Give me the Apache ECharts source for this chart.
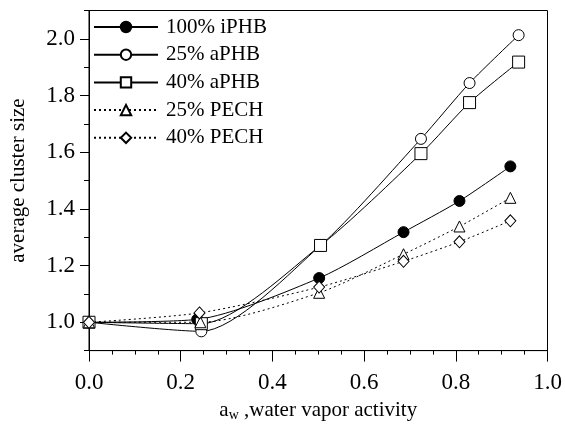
<!DOCTYPE html>
<html>
<head>
<meta charset="utf-8">
<script src="https://cdn.jsdelivr.net/npm/echarts@6/dist/echarts.min.js"></script>
<style>
html,body{margin:0;padding:0;background:#fff;}
#c{width:565px;height:427px;}
</style>
</head>
<body>
<div id="c"></div>
<script>
// ---- data ----
const seriesNames = ['100% iPHB', '25% aPHB', '40% aPHB', '25% PECH', '40% PECH'];
const xIPHB = [0, 0.236, 0.502, 0.686, 0.808, 0.919];
const yIPHB = [1.0, 1.01, 1.156, 1.318, 1.428, 1.55];
const xA25 = [0, 0.245, 0.505, 0.724, 0.830, 0.937];
const yA25 = [1.0, 0.968, 1.271, 1.647, 1.844, 2.013];
const xA40 = [0, 0.245, 0.505, 0.724, 0.830, 0.937];
const yA40 = [1.0, 0.995, 1.271, 1.595, 1.775, 1.918];
const xP25 = [0, 0.243, 0.502, 0.686, 0.808, 0.919];
const yP25 = [1.0, 1.0, 1.104, 1.240, 1.338, 1.439];
const xP40 = [0, 0.241, 0.502, 0.686, 0.808, 0.919];
const yP40 = [1.0, 1.033, 1.124, 1.215, 1.284, 1.358];
const xMajorTicks = [0, 0.2, 0.4, 0.6, 0.8, 1.0];
const yMajorTicks = [1.0, 1.2, 1.4, 1.6, 1.8, 2.0];

const FONT = 'Liberation Serif';
const pairs = (xs, ys) => xs.map((x, i) => [x, ys[i]]);

function mkSeries(name, xs, ys, symbol, fill, dashed) {
  return {
    name: name, type: 'line', data: pairs(xs, ys),
    smooth: 0.25, symbol: symbol, symbolSize: symbol === 'diamond' ? [11, 12] : (symbol === 'rect' ? 12 : 11),
    showAllSymbol: true,
    lineStyle: {color: '#000', width: 1, type: dashed ? [2, 3] : 'solid'},
    itemStyle: {color: fill, borderColor: '#000', borderWidth: 1},
    emphasis: {disabled: true}, animation: false, z: 3
  };
}

const chart = echarts.init(document.getElementById('c'), null, {renderer: 'canvas'});
const grid = {left: 84.5, right: 17.5, top: 10.5, bottom: 68.5, show: true, borderColor: '#000', borderWidth: 1, backgroundColor: 'transparent'};
const fmt1 = v => {
  const k = v * 5;
  return Math.abs(k - Math.round(k)) < 1e-6 ? v.toFixed(1) : '';
};
chart.setOption({
  backgroundColor: '#fff',
  animation: false,
  textStyle: {fontFamily: FONT, color: '#000'},
  grid: grid,
  legend: {
    orient: 'vertical', left: 93, top: 16, padding: 0,
    itemWidth: 64, itemHeight: 13, itemGap: 5.7,
    textStyle: {fontFamily: FONT, fontSize: 21, color: '#000', lineHeight: 22, padding: [0, 0, 0, 3]},
    data: seriesNames
  },
  xAxis: [{
    type: 'value', min: 0, max: 1, interval: 0.05,
    name: '{a|a}{w|w}{a| ,water vapor activity}', nameLocation: 'middle', nameGap: 47,
    nameTextStyle: {fontFamily: FONT, color: '#000', fontSize: 21,
      rich: {a: {fontFamily: FONT, fontSize: 21, color: '#000'},
             w: {fontFamily: FONT, fontSize: 14, color: '#000', padding: [10, 0, 0, 0]}}},
    axisLine: {show: true, lineStyle: {color: '#000', width: 1}},
    axisTick: {show: true, inside: false, length: 4, lineStyle: {color: '#000'}},
    axisLabel: {fontFamily: FONT, fontSize: 23, color: '#000', margin: 21, formatter: fmt1},
    splitLine: {show: false}
  }, {
    type: 'value', min: 0, max: 1, position: 'bottom',
    axisLine: {show: false},
    axisTick: {show: true, length: 11, customValues: xMajorTicks, lineStyle: {color: '#000'}},
    axisLabel: {show: false}, splitLine: {show: false}
  }],
  yAxis: [{
    type: 'value', min: 0.9, max: 2.1, interval: 0.1,
    name: 'average cluster size', nameLocation: 'middle', nameGap: 60,
    nameTextStyle: {fontFamily: FONT, fontSize: 21, color: '#000'},
    axisLine: {show: true, lineStyle: {color: '#000', width: 1}},
    axisTick: {show: true, inside: false, length: 5, lineStyle: {color: '#000'}},
    axisLabel: {fontFamily: FONT, fontSize: 23, color: '#000', margin: 14, formatter: fmt1},
    splitLine: {show: false}
  }, {
    type: 'value', min: 0.9, max: 2.1, position: 'left',
    axisLine: {show: false},
    axisTick: {show: true, length: 9, customValues: yMajorTicks, lineStyle: {color: '#000'}},
    axisLabel: {show: false}, splitLine: {show: false}
  }],
  series: [
    mkSeries(seriesNames[0], xIPHB, yIPHB, 'circle', '#000', false),
    mkSeries(seriesNames[1], xA25, yA25, 'circle', '#fff', false),
    mkSeries(seriesNames[2], xA40, yA40, 'rect', '#fff', false),
    mkSeries(seriesNames[3], xP25, yP25, 'triangle', '#fff', true),
    mkSeries(seriesNames[4], xP40, yP40, 'diamond', '#fff', true)
  ]
});
</script>
</body>
</html>
